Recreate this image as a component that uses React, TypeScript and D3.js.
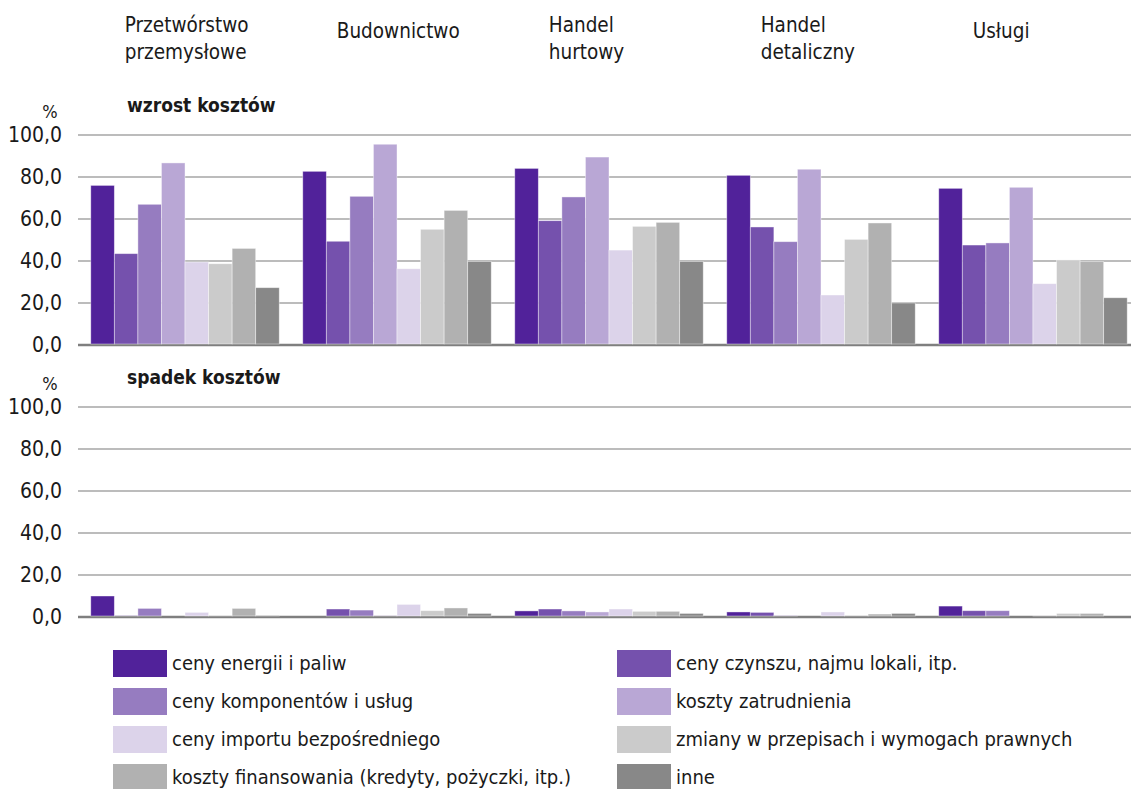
import { useEffect, useRef } from 'react';
import * as d3 from 'd3';

const CATEGORIES = [
  ['Przetwórstwo', 'przemysłowe'],
  ['Budownictwo'],
  ['Handel', 'hurtowy'],
  ['Handel', 'detaliczny'],
  ['Usługi'],
];

const SERIES = [
  'ceny energii i paliw',
  'ceny czynszu, najmu lokali, itp.',
  'ceny komponentów i usług',
  'koszty zatrudnienia',
  'ceny importu bezpośredniego',
  'zmiany w przepisach i wymogach prawnych',
  'koszty finansowania (kredyty, pożyczki, itp.)',
  'inne',
];

const COLORS = ['#51229a', '#7551ad', '#967cc0', '#b9a7d5', '#dcd3ea', '#cbcbcb', '#b1b1b1', '#888888'];

// rows = categories, columns = series
const INCREASE = [
  [76.0, 43.5, 67.0, 86.7, 39.5, 38.7, 46.0, 27.3],
  [82.7, 49.4, 70.8, 95.6, 36.3, 55.1, 64.1, 39.8],
  [84.1, 59.2, 70.5, 89.5, 45.2, 56.5, 58.4, 39.8],
  [80.8, 56.2, 49.2, 83.7, 23.8, 50.3, 58.1, 20.0],
  [74.6, 47.6, 48.6, 75.1, 29.2, 40.5, 39.7, 22.5],
];

const DECREASE = [
  [10.0, 0.6, 4.1, 0.0, 2.2, 0.6, 4.1, 0.6],
  [0.0, 3.8, 3.3, 0.6, 6.0, 3.0, 4.3, 1.7],
  [2.9, 3.8, 2.9, 2.4, 3.8, 2.7, 2.7, 1.7],
  [2.4, 2.2, 0.6, 0.0, 2.4, 0.5, 1.4, 1.7],
  [5.2, 3.0, 3.0, 0.0, 0.5, 1.7, 1.7, 0.0],
];

const TICKS = [0, 20, 40, 60, 80, 100];
const PANEL_TITLES = ['wzrost kosztów', 'spadek kosztów'];

const FONT = '"DejaVu Sans Condensed", "Liberation Sans Narrow", Roboto, sans-serif';
const W = 1131;
const H = 789;

export default function App() {
  const ref = useRef<SVGSVGElement>(null);

  useEffect(() => {
    if (!ref.current) return;
    const svg = d3.select(ref.current);
    svg.selectAll('*').remove();

    const fmt = (v: number) => d3.format('.1f')(v).replace('.', ',');

    const x0 = d3.scaleBand<number>()
      .domain(d3.range(CATEGORIES.length))
      .range([79, 1139])
      .paddingInner(0.111)
      .paddingOuter(0.0556);

    const x1 = d3.scaleBand<number>()
      .domain(d3.range(SERIES.length))
      .range([0, x0.bandwidth()])
      .padding(0);

    // category headers
    CATEGORIES.forEach((lines, i) => {
      const t = svg.append('text')
        .attr('y', lines.length > 1 ? 32 : 38)
        .attr('font-family', FONT)
        .attr('font-size', 20.5)
        .attr('fill', '#1a1a1a');
      lines.forEach((l, j) => {
        t.append('tspan')
          .attr('x', x0(i)! + 34)
          .attr('dy', j === 0 ? 0 : 27)
          .text(l);
      });
    });

    const panels = [
      { data: INCREASE, top: 135, bottom: 345, title: PANEL_TITLES[0] },
      { data: DECREASE, top: 407, bottom: 617, title: PANEL_TITLES[1] },
    ];

    panels.forEach(p => {
      const y = d3.scaleLinear().domain([0, 100]).range([p.bottom, p.top]);
      const g = svg.append('g');

      g.append('text')
        .attr('x', 50)
        .attr('y', p.top - 17)
        .attr('text-anchor', 'middle')
        .attr('font-family', FONT)
        .attr('font-size', 18)
        .attr('fill', '#1a1a1a')
        .text('%');

      g.append('text')
        .attr('x', 127)
        .attr('y', p.top - 23)
        .attr('font-family', FONT)
        .attr('font-size', 19)
        .attr('font-weight', 'bold')
        .attr('fill', '#1a1a1a')
        .text(p.title);

      TICKS.forEach(t => {
        g.append('line')
          .attr('x1', 78)
          .attr('x2', W)
          .attr('y1', y(t))
          .attr('y2', y(t))
          .attr('stroke', t === 0 ? '#7f7f7f' : '#a6a6a6')
          .attr('stroke-width', t === 0 ? 2.5 : 1.5);
        g.append('text')
          .attr('x', 62)
          .attr('y', y(t))
          .attr('dy', '0.35em')
          .attr('text-anchor', 'end')
          .attr('font-family', FONT)
          .attr('font-size', 21)
          .attr('fill', '#1a1a1a')
          .text(fmt(t));
      });

      p.data.forEach((row, ci) => {
        g.append('g')
          .attr('transform', `translate(${x0(ci)},0)`)
          .selectAll('rect')
          .data(row)
          .join('rect')
          .attr('x', (_, si) => x1(si)!)
          .attr('width', x1.bandwidth())
          .attr('y', d => y(d))
          .attr('height', d => Math.max(0, p.bottom - y(d) - 1))
          .attr('fill', (_, si) => COLORS[si])
          .attr('stroke', '#ffffff')
          .attr('stroke-opacity', 0.5)
          .attr('stroke-width', 0.8);
      });
    });

    // legend
    const lg = svg.append('g');
    SERIES.forEach((s, i) => {
      const col = i % 2;
      const row = Math.floor(i / 2);
      const lx = col === 0 ? 113 : 617;
      const ly = 650 + row * 38;
      lg.append('rect')
        .attr('x', lx)
        .attr('y', ly)
        .attr('width', 54)
        .attr('height', 27)
        .attr('fill', COLORS[i]);
      lg.append('text')
        .attr('x', lx + 59)
        .attr('y', ly + 13)
        .attr('dy', '0.35em')
        .attr('font-family', FONT)
        .attr('font-size', 20)
        .attr('fill', '#1a1a1a')
        .text(s);
    });
  }, []);

  return (
    <svg
      ref={ref}
      width={W}
      height={H}
      style={{ position: 'absolute', left: 0, top: 0, background: '#ffffff', display: 'block' }}
    />
  );
}
